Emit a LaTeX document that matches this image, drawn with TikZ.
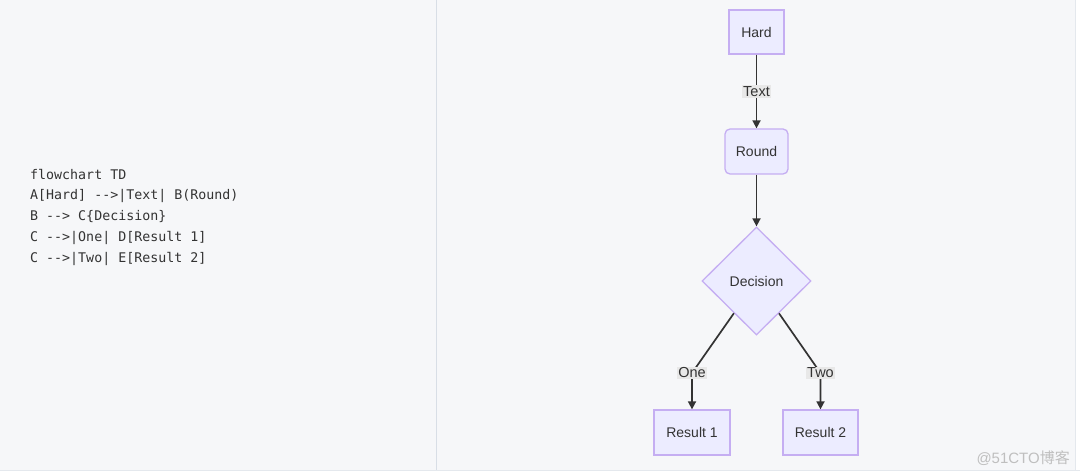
\documentclass[tikz,border=0pt]{standalone}
\usepackage{fontspec}
\setmainfont{Liberation Sans}
\setmonofont{DejaVu Sans Mono}
\newfontfamily\cjkfont{Noto Sans CJK SC}
\usepackage{tikz}
\usetikzlibrary{shapes.geometric, arrows.meta}

\definecolor{panel}{HTML}{F6F7F9}
\definecolor{rule}{HTML}{D8DEE6}
\definecolor{boxfill}{HTML}{ECECFF}
\definecolor{boxline}{HTML}{C5AEF2}
\definecolor{ink}{HTML}{333333}
\definecolor{lblbg}{HTML}{E8E8E8}

\begin{document}
\begin{tikzpicture}[x=1pt, y=-1pt,
  box/.style={draw=boxline, line width=1.3pt, fill=boxfill, text=ink, font=\fontsize{14}{16}\selectfont, inner sep=0pt},
  decide/.style={box, diamond, minimum width=109pt, minimum height=108pt},
  edgelbl/.style={fill=lblbg, text=ink, font=\fontsize{14.5}{16}\selectfont, inner sep=1pt},
  link/.style={draw=ink, line width=1.7pt, -{Triangle[length=8pt, width=8pt]}},
  codeline/.style={anchor=west, text=ink, font=\ttfamily\fontsize{13.3}{16}\selectfont, inner sep=0pt}]

% page and panel
\useasboundingbox (0,0) rectangle (1080,476);
\fill[white] (0,0) rectangle (1080,476);
\fill[panel] (0,0) rectangle (1075,470);
\draw[rule, line width=1pt] (436,0) -- (436,470);
\draw[rule!70, line width=1pt] (0,470.5) -- (1080,470.5);
\draw[rule!70, line width=1pt] (1075,0) -- (1075,470);

% source text
\node[codeline] (l1) at (30,175) {flowchart TD};
\node[codeline] (l2) at (30,196) {A[Hard] -->|Text| B(Round)};
\node[codeline] (l3) at (30,217) {B --> C\{Decision\}};
\node[codeline] (l4) at (30,238) {C -->|One| D[Result 1]};
\node[codeline] (l5) at (30,259) {C -->|Two| E[Result 2]};

% flowchart
\node[box, minimum width=55pt, minimum height=44pt] (hard) at (756.5,32) {Hard};
\node[box, rounded corners=5pt, minimum width=63pt, minimum height=45pt] (round) at (756.5,151.5) {Round};
\node[decide] (decision) at (756.5,281) {Decision};
\node[box, minimum width=76pt, minimum height=45pt] (res1) at (692,432.5) {Result 1};
\node[box, minimum width=75pt, minimum height=45pt] (res2) at (820.5,432.5) {Result 2};

\coordinate (oneBend) at (692,373);
\coordinate (twoBend) at (820.5,373);

\draw[link] (hard) -- (round) node[edgelbl, midway] (txt) {Text};
\draw[link] (round) -- (decision);
\draw[link] (decision) -- (oneBend) -- (res1);
\draw[link] (decision) -- (twoBend) -- (res2);
\node[edgelbl] (one) at (oneBend) {One};
\node[edgelbl] (two) at (twoBend) {Two};

% watermark
\node[anchor=east, text=black!25, font=\fontsize{15}{17}\selectfont, inner sep=0pt] (mark) at (1070,458) {@51CTO\cjkfont 博客};
\end{tikzpicture}
\end{document}
